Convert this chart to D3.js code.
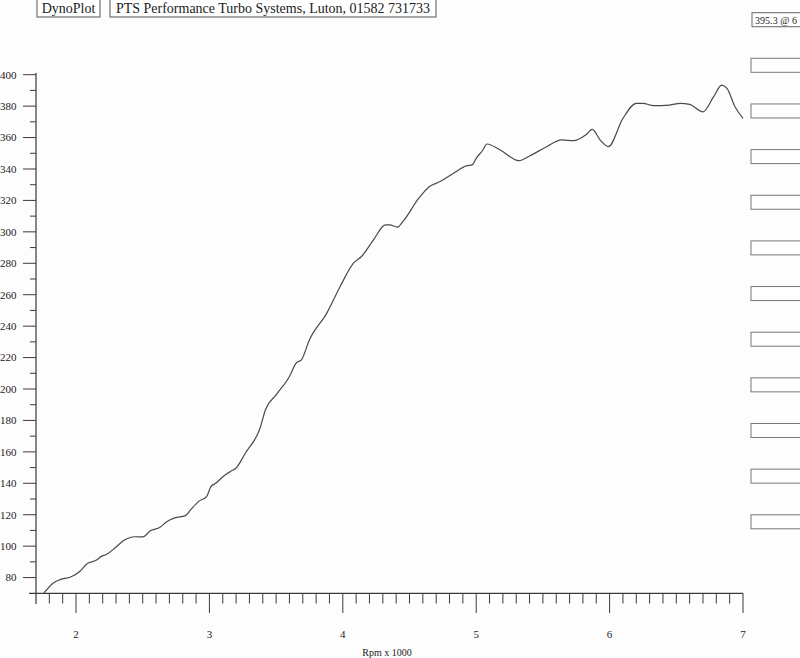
<!DOCTYPE html>
<html>
<head>
<meta charset="utf-8">
<script src="https://cdn.jsdelivr.net/npm/d3@7"></script>
<style>
  html, body { margin: 0; padding: 0; background: #fdfdfd; }
  svg { display: block; font-family: "Liberation Serif", "DejaVu Serif", serif; }
</style>
</head>
<body>
<svg id="chart" width="800" height="658"></svg>
<script>
// ---- data ----
const rpm = [1.76,1.83,1.88,1.96,2.03,2.08,2.15,2.19,2.23,2.30,2.36,2.44,2.50,2.56,2.63,2.68,2.74,2.82,2.86,2.92,2.98,3.01,3.05,3.11,3.16,3.20,3.27,3.38,3.42,3.50,3.60,3.65,3.69,3.75,3.88,3.98,4.08,4.14,4.23,4.32,4.35,4.41,4.45,4.57,4.65,4.73,4.83,4.93,4.97,5.00,5.05,5.08,5.18,5.32,5.40,5.52,5.64,5.73,5.82,5.87,5.93,5.99,6.10,6.20,6.25,6.33,6.45,6.53,6.60,6.70,6.78,6.84,6.88,6.94,7.00];
const power = [70.2,76.6,78.7,80.4,84,88.7,91,93.5,94.8,99.5,103.7,106,105.9,109.9,112,115.6,118,119.4,123.2,128.5,131.7,137.7,140.2,144.8,147.6,149.7,159.3,175.2,186.8,196.3,208,216.5,218.6,231.3,248.3,265.2,280.1,284.3,294.9,304.4,304.4,303,306.5,321.4,328.8,332,337.3,342.1,342.6,346.8,352.1,355.9,352.1,345.3,348.3,353.8,358.5,358,361.6,365.2,358.4,354.2,372.2,381.8,381.8,380.3,380.7,381.8,381.1,376.4,386,393.4,391.3,379.6,372.2];
const xTickMajor = [2,3,4,5,6,7];
const yTickLabels = [80,100,120,140,160,180,200,220,240,260,280,300,320,340,360,380,400];
const headerTitle = "DynoPlot";
const headerSub = "PTS Performance Turbo Systems, Luton, 01582 731733";
const peakText = "395.3 @ 6";
const xAxisTitle = "Rpm x 1000";
const emptyBoxes = d3.range(11);

// ---- layout ----
const svg = d3.select("#chart");
const ink = "#3a3a3a";
const x = d3.scaleLinear().domain([1.7, 7]).range([36, 743]);
const y = d3.scaleLinear().domain([70, 400]).range([593.3, 74.7]);

// header boxes
const hdr = svg.append("g");
hdr.append("rect").attr("x", 37).attr("y", -1).attr("width", 63).attr("height", 18)
  .attr("fill", "#fff").attr("stroke", "#555").attr("stroke-width", 1);
hdr.append("text").attr("x", 68.5).attr("y", 12.5).attr("text-anchor", "middle")
  .attr("font-size", 14).attr("fill", "#222").text(headerTitle);
hdr.append("rect").attr("x", 110).attr("y", -1).attr("width", 326).attr("height", 18)
  .attr("fill", "#fff").attr("stroke", "#555").attr("stroke-width", 1);
hdr.append("text").attr("x", 273).attr("y", 12.5).attr("text-anchor", "middle")
  .attr("font-size", 14).attr("fill", "#222").text(headerSub);

// right-hand boxes
const rb = svg.append("g");
rb.append("rect").attr("x", 752).attr("y", 12.7).attr("width", 60).attr("height", 14)
  .attr("fill", "#fff").attr("stroke", "#666");
rb.append("text").attr("x", 755).attr("y", 23.5).attr("font-size", 10).attr("fill", "#222")
  .attr("textLength", 42).attr("lengthAdjust", "spacing").text(peakText);
rb.selectAll("rect.eb").data(emptyBoxes).join("rect").attr("class", "eb")
  .attr("x", 751).attr("y", d => 58.3 + d * 45.65).attr("width", 60).attr("height", 14)
  .attr("fill", "#fff").attr("stroke", "#777");

// y axis
const ya = svg.append("g").attr("stroke", ink);
ya.append("line").attr("x1", 36).attr("x2", 36).attr("y1", 73).attr("y2", 604).attr("stroke-width", 1.2);
const yAll = d3.range(80, 401, 10);
ya.selectAll("line.t").data(yAll).join("line").attr("class", "t")
  .attr("x1", d => d % 20 === 0 ? 23 : 30).attr("x2", 36)
  .attr("y1", d => y(d)).attr("y2", d => y(d)).attr("stroke-width", 1);
svg.append("g").selectAll("text").data(yTickLabels).join("text")
  .attr("x", 16.5).attr("y", d => y(d) + 3.8).attr("text-anchor", "end")
  .attr("font-size", 11).attr("fill", "#222").text(d => d);

// x axis
const xa = svg.append("g").attr("stroke", ink);
xa.append("line").attr("x1", 29).attr("x2", 743).attr("y1", 593.3).attr("y2", 593.3).attr("stroke-width", 1.2);
const xAll = d3.range(18, 71).map(d => d / 10);
xa.selectAll("line.t").data(xAll).join("line").attr("class", "t")
  .attr("x1", d => x(d)).attr("x2", d => x(d))
  .attr("y1", 593.3).attr("y2", d => Math.abs(d - Math.round(d)) < 1e-6 ? 613 : 603.5)
  .attr("stroke-width", 1);
svg.append("g").selectAll("text").data(xTickMajor).join("text")
  .attr("x", d => x(d)).attr("y", 637.5).attr("text-anchor", "middle")
  .attr("font-size", 11).attr("fill", "#222").text(d => d);
svg.append("text").attr("x", 387).attr("y", 655.5).attr("text-anchor", "middle")
  .attr("font-size", 10).attr("fill", "#222").text(xAxisTitle);

// curve
const pts = rpm.map((r, i) => [r, power[i]]);
const line = d3.line().x(d => x(d[0])).y(d => y(d[1])).curve(d3.curveMonotoneX);
svg.append("path").attr("d", line(pts)).attr("fill", "none")
  .attr("stroke", "#4a4a4a").attr("stroke-width", 1.2);
</script>
</body>
</html>
